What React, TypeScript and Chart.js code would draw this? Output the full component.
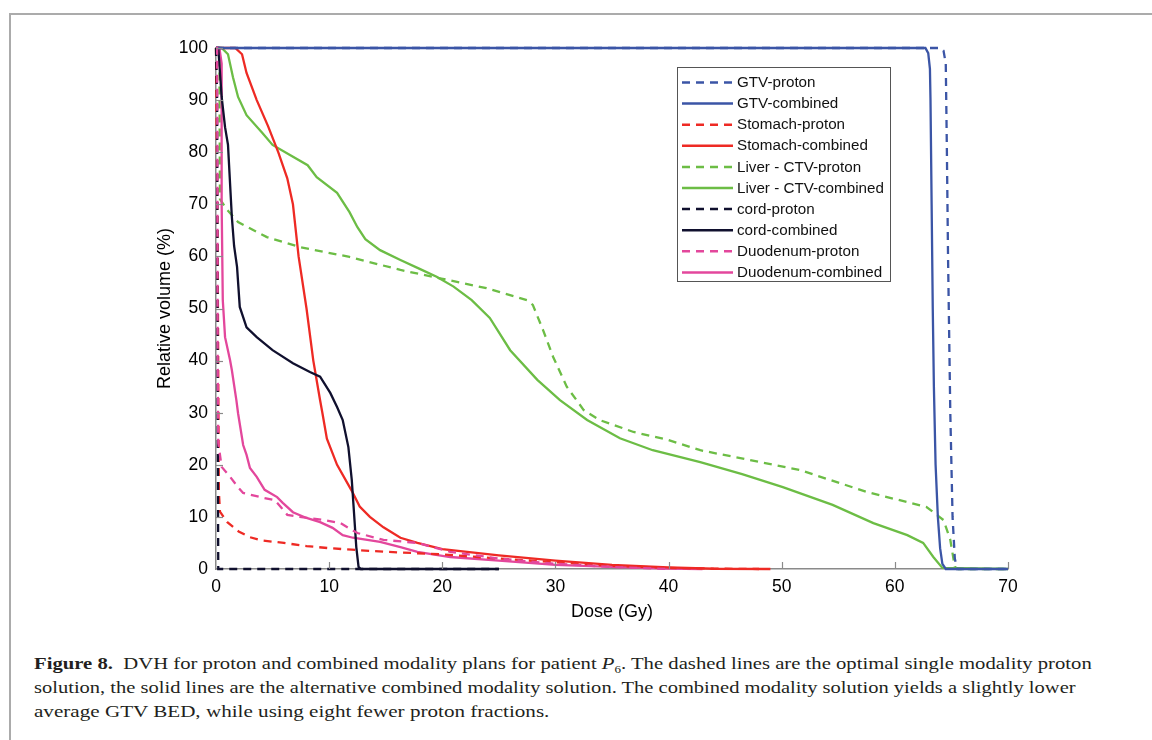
import React, { useEffect, useLayoutEffect, useRef } from "react";
import { Chart, registerables } from "chart.js";

Chart.register(...registerables);

// ---------- data ----------
const seriesLabels = [
  "GTV-proton",
  "GTV-combined",
  "Stomach-proton",
  "Stomach-combined",
  "Liver - CTV-proton",
  "Liver - CTV-combined",
  "cord-proton",
  "cord-combined",
  "Duodenum-proton",
  "Duodenum-combined",
];

const gtvProtonDose = [0, 64.0, 64.3, 64.5, 64.6, 64.7, 64.9, 65.1, 65.3, 65.5, 70];
const gtvProtonVol = [100, 100, 99.5, 97, 80, 60, 30, 10, 2, 0, 0];

const gtvCombinedDose = [0, 62.7, 62.95, 63.1, 63.15, 63.25, 63.35, 63.45, 63.6, 63.8, 64.0, 64.2, 64.5, 70];
const gtvCombinedVol = [100, 100, 99, 96, 90, 70, 50, 35, 20, 10, 4, 1, 0, 0];

const stomachProtonDose = [0, 0.15, 0.25, 0.35, 1, 2, 3, 4, 6, 8, 10, 12, 15, 20, 25, 30, 35, 40, 45, 48];
const stomachProtonVol = [100, 60, 15, 11, 9, 7.2, 6.1, 5.5, 5.0, 4.4, 4.0, 3.7, 3.3, 2.8, 2.0, 1.3, 0.6, 0.2, 0.05, 0];

const stomachCombinedDose = [0, 1.7, 2.3, 2.7, 3.6, 4.6, 5.5, 6.3, 6.8, 7.3, 8.0, 8.6, 9.2, 9.4, 9.8, 10.7, 12.0, 12.7, 13.6, 14.8, 16.3, 17.8, 20, 25, 30, 35, 40, 44, 49];
const stomachCombinedVol = [100, 100, 98.8, 95.2, 90, 85, 80, 75, 70, 60, 50, 40, 32.4, 30, 25, 20, 15, 12, 10, 8, 6, 5, 3.8, 2.6, 1.6, 0.8, 0.3, 0.05, 0];

const liverProtonDose = [0, 0.3, 0.35, 1.0, 1.95, 4.5, 7.4, 11.8, 16.3, 19.8, 23.9, 27.5, 28.0, 28.9, 29.8, 31.0, 32.5, 33.9, 36.9, 39.9, 42.8, 51.6, 57.5, 62.8, 64.3, 64.9, 65.3, 65.6, 70];
const liverProtonVol = [100, 100, 71, 68.9, 66.6, 63.7, 61.8, 59.9, 57.4, 55.8, 53.9, 51.6, 50.7, 45.9, 40.7, 35, 30.5, 28.6, 26.3, 24.8, 22.8, 19, 14.8, 11.9, 9.4, 5.6, 0.4, 0, 0];

const liverCombinedDose = [0, 0.5, 1.06, 1.5, 1.95, 2.7, 4.1, 5.0, 6.5, 8.1, 8.9, 10.7, 11.8, 12.5, 13.2, 14.5, 16.3, 18.0, 19.5, 21.0, 22.6, 24.2, 26.0, 28.4, 30.4, 32.8, 35.7, 38.6, 42.8, 46.5, 50.1, 54.5, 58.1, 61.1, 62.5, 63.4, 64.2, 70];
const liverCombinedVol = [100, 100, 98.8, 94.4, 90.6, 87.1, 83.7, 81.4, 79.5, 77.5, 75.2, 72.2, 68.5, 65.6, 63.3, 61.2, 59.3, 57.6, 56.1, 54.2, 51.6, 48.2, 42.0, 36.3, 32.4, 28.6, 25.1, 22.8, 20.5, 18.2, 15.7, 12.3, 8.8, 6.5, 5.0, 2.3, 0.2, 0];

const cordProtonDose = [0, 0.1, 0.15, 0.2, 25];
const cordProtonVol = [100, 90, 30, 0, 0];

const cordCombinedDose = [0, 0.2, 0.5, 0.8, 1.06, 1.4, 1.6, 1.86, 2.1, 2.7, 3.6, 5.0, 6.8, 8.3, 9.2, 10.1, 10.7, 11.2, 11.7, 12.0, 12.2, 12.4, 12.6, 12.8, 25];
const cordCombinedVol = [100, 100, 90.6, 84.8, 81.4, 67.6, 62, 58, 50.3, 46.4, 44.5, 42.0, 39.5, 37.8, 36.9, 33.8, 31.1, 28.6, 23.4, 17.1, 10.7, 4.2, 0.4, 0, 0];

const duodenumProtonDose = [0, 0.1, 0.15, 0.2, 0.5, 1.24, 1.95, 2.4, 3.9, 5.2, 5.8, 6.3, 7.4, 9.5, 11.0, 12.5, 14.8, 17.8, 20.7, 25, 30, 35, 40];
const duodenumProtonVol = [100, 100, 40, 24.2, 19.6, 17.7, 15.7, 14.6, 13.8, 13.2, 11.7, 10.4, 10.0, 9.4, 8.8, 6.9, 5.6, 5.0, 3.3, 2.0, 1.0, 0.4, 0];

const duodenumCombinedDose = [0, 0.3, 0.5, 0.5, 0.6, 0.8, 1.24, 1.4, 1.8, 1.95, 2.4, 2.7, 3.0, 3.6, 4.3, 5.4, 5.9, 6.8, 8.0, 9.2, 10.3, 11.2, 12.1, 14.5, 16.3, 17.8, 20.7, 25, 30, 35, 40, 43];
const duodenumCombinedVol = [100, 100, 97, 70, 51.6, 44.5, 40.1, 38.2, 32.4, 29.9, 23.8, 21.9, 19.4, 17.7, 15.2, 13.8, 12.7, 10.9, 9.8, 9.0, 7.9, 6.5, 6.0, 5.2, 4.2, 3.3, 2.3, 1.6, 0.8, 0.4, 0.1, 0];

const seriesDoses = [
  gtvProtonDose, gtvCombinedDose, stomachProtonDose, stomachCombinedDose,
  liverProtonDose, liverCombinedDose, cordProtonDose, cordCombinedDose,
  duodenumProtonDose, duodenumCombinedDose,
];
const seriesVols = [
  gtvProtonVol, gtvCombinedVol, stomachProtonVol, stomachCombinedVol,
  liverProtonVol, liverCombinedVol, cordProtonVol, cordCombinedVol,
  duodenumProtonVol, duodenumCombinedVol,
];
const seriesColors = [
  "#3b55a6", "#3b55a6", "#ee2a24", "#ee2a24", "#6cbd45", "#6cbd45",
  "#10102e", "#10102e", "#e3479c", "#e3479c",
];
const seriesDashed = [true, false, true, false, true, false, true, false, true, false];
// drawing order (lower = drawn on top)
const seriesOrder = [1, 0, 2, 2, 3, 3, 1, 1, -1, 2];

const xTitle = "Dose (Gy)";
const yTitle = "Relative volume (%)";

const DASH = [8, 6];
const AXIS_COLOR = "#8a8a8a";
const FONT = "'Liberation Sans', Arial, Helvetica, sans-serif";

const inwardTicks = {
  id: "inwardTicks",
  afterDatasetsDraw(chart: any) {
    const { ctx, chartArea, scales } = chart;
    ctx.save();
    ctx.strokeStyle = AXIS_COLOR;
    ctx.lineWidth = 1.2;
    scales.x.ticks.forEach((t: any) => {
      if (t.value === 0) return;
      const px = Math.round(scales.x.getPixelForValue(t.value)) + 0.5;
      ctx.beginPath();
      ctx.moveTo(px, chartArea.bottom);
      ctx.lineTo(px, chartArea.bottom - 7);
      ctx.stroke();
    });
    scales.y.ticks.forEach((t: any) => {
      if (t.value === 0) return;
      const py = Math.round(scales.y.getPixelForValue(t.value)) + 0.5;
      ctx.beginPath();
      ctx.moveTo(chartArea.left, py);
      ctx.lineTo(chartArea.left + 7, py);
      ctx.stroke();
    });
    ctx.restore();
  },
};

const boxLegend = {
  id: "boxLegend",
  afterDraw(chart: any) {
    const { ctx } = chart;
    const x0 = 677.5, y0 = 67.5, w = 213, h = 214;
    ctx.save();
    ctx.fillStyle = "#ffffff";
    ctx.fillRect(x0, y0, w, h);
    ctx.strokeStyle = "#555555";
    ctx.lineWidth = 1;
    ctx.strokeRect(x0, y0, w, h);
    ctx.font = `15.2px ${FONT}`;
    ctx.textBaseline = "middle";
    ctx.textAlign = "left";
    chart.data.datasets.forEach((ds: any, i: number) => {
      const yy = 82.5 + i * 21.1;
      ctx.strokeStyle = ds.borderColor;
      ctx.lineWidth = 2.5;
      ctx.setLineDash(ds.borderDash || []);
      ctx.beginPath();
      ctx.moveTo(682, yy);
      ctx.lineTo(733, yy);
      ctx.stroke();
      ctx.setLineDash([]);
      ctx.fillStyle = "#111111";
      ctx.fillText(ds.label, 737, yy + 0.5);
    });
    ctx.restore();
  },
};

function ChartView() {
  const ref = useRef<HTMLCanvasElement | null>(null);
  useEffect(() => {
    if (!ref.current) return;
    const datasets = seriesLabels.map((label, i) => ({
      label,
      data: seriesDoses[i].map((x, j) => ({ x, y: seriesVols[i][j] })),
      borderColor: seriesColors[i],
      backgroundColor: seriesColors[i],
      borderWidth: 2.3,
      borderDash: seriesDashed[i] ? DASH : [],
      pointRadius: 0,
      tension: 0,
      fill: false,
      order: seriesOrder[i],
      clip: false as any,
    }));
    const chart = new Chart(ref.current, {
      type: "line",
      data: { datasets },
      options: {
        animation: false,
        responsive: false,
        maintainAspectRatio: false,
        parsing: false as any,
        layout: { padding: { left: 136, top: 48, right: 144, bottom: 11 } },
        plugins: { legend: { display: false }, tooltip: { enabled: false } },
        scales: {
          x: {
            type: "linear",
            min: 0,
            max: 70,
            ticks: { stepSize: 10, color: "#000", font: { size: 17.5, family: FONT }, padding: 8, maxRotation: 0 },
            grid: { display: false, drawTicks: false },
            border: { display: true, color: AXIS_COLOR, width: 1.5 },
            title: { display: true, text: xTitle, color: "#000", font: { size: 18, family: FONT }, padding: { top: 0, bottom: 6 } },
            afterFit: (s: any) => { s.height = 60; },
          },
          y: {
            type: "linear",
            min: 0,
            max: 100,
            ticks: { stepSize: 10, color: "#000", font: { size: 17.5, family: FONT }, padding: 8 },
            grid: { display: false, drawTicks: false },
            border: { display: true, color: AXIS_COLOR, width: 1.5 },
            title: { display: true, text: yTitle, color: "#000", font: { size: 18, family: FONT }, padding: { top: 18, bottom: 0 } },
            afterFit: (s: any) => { s.width = 80; },
          },
        },
      },
      plugins: [inwardTicks, boxLegend],
    } as any);
    return () => chart.destroy();
  }, []);
  return <canvas ref={ref} width={1152} height={640} style={{ width: 1152, height: 640, display: "block" }} />;
}

const captionTargets = [1058, 1042, 515];

export default function App() {
  const lineRefs = [useRef<HTMLSpanElement | null>(null), useRef<HTMLSpanElement | null>(null), useRef<HTMLSpanElement | null>(null)];
  useLayoutEffect(() => {
    lineRefs.forEach((r, i) => {
      const el = r.current;
      if (!el) return;
      el.style.transform = "none";
      const w = el.offsetWidth;
      if (w > 0) el.style.transform = `scaleX(${captionTargets[i] / w})`;
    });
  }, []);
  const lineStyle: React.CSSProperties = {
    display: "inline-block",
    whiteSpace: "nowrap",
    transformOrigin: "0 0",
  };
  const rowStyle: React.CSSProperties = { height: 24, lineHeight: "24px", overflow: "visible" };
  return (
    <div style={{ position: "absolute", left: 0, top: 0, width: 1152, height: 740, overflow: "hidden", background: "#fff" }}>
      <div style={{ position: "absolute", left: 9, top: 13, width: 1143, height: 0, borderTop: "2px solid #ababab" }} />
      <div style={{ position: "absolute", left: 9, top: 13, width: 0, height: 727, borderLeft: "2px solid #ababab" }} />
      <div style={{ position: "absolute", left: 0, top: 0 }}>
        <ChartView />
      </div>
      <div
        style={{
          position: "absolute",
          left: 34,
          top: 651,
          fontFamily: "'Liberation Serif', 'DejaVu Serif', serif",
          fontSize: 17.5,
          color: "#231f20",
        }}
      >
        <div style={rowStyle}>
          <span ref={lineRefs[0]} style={lineStyle}>
            <b>Figure 8.</b>{"\u00a0\u00a0"}DVH for proton and combined modality plans for patient <i>P</i>
            <span style={{ fontSize: 11, position: "relative", top: 4, lineHeight: 0 }}>6</span>. The dashed lines are the optimal single modality proton
          </span>
        </div>
        <div style={rowStyle}>
          <span ref={lineRefs[1]} style={lineStyle}>
            solution, the solid lines are the alternative combined modality solution. The combined modality solution yields a slightly lower
          </span>
        </div>
        <div style={rowStyle}>
          <span ref={lineRefs[2]} style={lineStyle}>
            average GTV BED, while using eight fewer proton fractions.
          </span>
        </div>
      </div>
    </div>
  );
}
